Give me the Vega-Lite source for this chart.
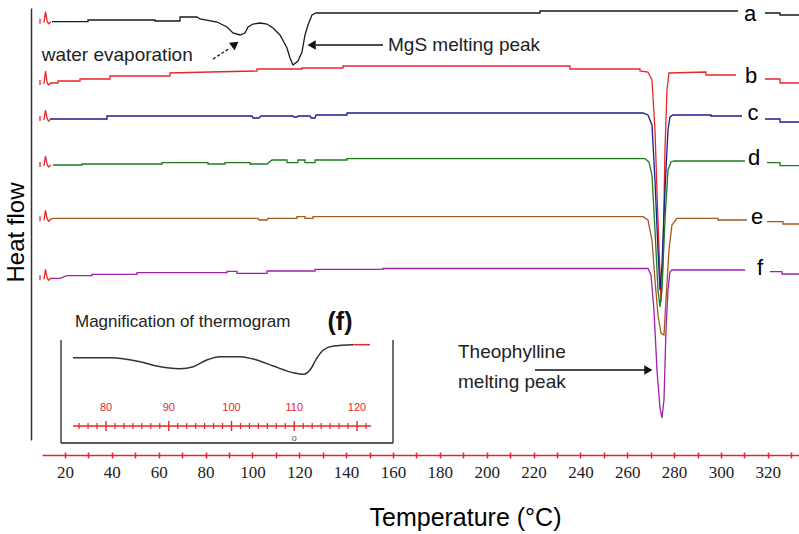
{
  "$schema": "https://vega.github.io/schema/vega-lite/v6.json",
  "width": 757,
  "height": 432,
  "autosize": {"type": "none"},
  "padding": {"left": 42, "top": 8, "right": 0, "bottom": 94},
  "background": "white",
  "config": {"view": {"stroke": null}, "axis": {"grid": false}},
  "datasets": {
    "curves": [
      {"trace":"a","part":"a1","temp":14.47,"hf":418.3},{"trace":"a","part":"a1","temp":29.83,"hf":418.3},{"trace":"a","part":"a1","temp":29.83,"hf":420},{"trace":"a","part":"a1","temp":58.43,"hf":420},{"trace":"a","part":"a1","temp":58.43,"hf":419},{"trace":"a","part":"a1","temp":69.10,"hf":419},{"trace":"a","part":"a1","temp":69.10,"hf":423},{"trace":"a","part":"a1","temp":76.36,"hf":423},{"trace":"a","part":"a1","temp":77.64,"hf":421},{"trace":"a","part":"a1","temp":84.89,"hf":418},{"trace":"a","part":"a1","temp":89.16,"hf":413},{"trace":"a","part":"a1","temp":91.72,"hf":407},{"trace":"a","part":"a1","temp":94.71,"hf":405},{"trace":"a","part":"a1","temp":96.85,"hf":407},{"trace":"a","part":"a1","temp":98.12,"hf":413},{"trace":"a","part":"a1","temp":100.25,"hf":416},{"trace":"a","part":"a1","temp":103.24,"hf":417},{"trace":"a","part":"a1","temp":106.23,"hf":416},{"trace":"a","part":"a1","temp":108.79,"hf":412},{"trace":"a","part":"a1","temp":111.78,"hf":405},{"trace":"a","part":"a1","temp":114.77,"hf":392},{"trace":"a","part":"a1","temp":116.05,"hf":382},{"trace":"a","part":"a1","temp":117.33,"hf":375},{"trace":"a","part":"a1","temp":119.46,"hf":379},{"trace":"a","part":"a1","temp":121.17,"hf":388},{"trace":"a","part":"a1","temp":122.45,"hf":405},{"trace":"a","part":"a1","temp":123.73,"hf":415},{"trace":"a","part":"a1","temp":125.44,"hf":425},{"trace":"a","part":"a1","temp":127.15,"hf":427},{"trace":"a","part":"a1","temp":222.75,"hf":427},{"trace":"a","part":"a1","temp":222.75,"hf":429},{"trace":"a","part":"a1","temp":307.26,"hf":429},
      {"trace":"a","part":"a2","temp":318.78,"hf":427},{"trace":"a","part":"a2","temp":325.19,"hf":427},{"trace":"a","part":"a2","temp":325.19,"hf":425},{"trace":"a","part":"a2","temp":333.3,"hf":425},
      {"trace":"b","part":"b1","temp":13.62,"hf":357},{"trace":"b","part":"b1","temp":17.03,"hf":357},{"trace":"b","part":"b1","temp":17.03,"hf":359},{"trace":"b","part":"b1","temp":26.42,"hf":359},{"trace":"b","part":"b1","temp":26.42,"hf":361},{"trace":"b","part":"b1","temp":39.22,"hf":361},{"trace":"b","part":"b1","temp":39.22,"hf":364},{"trace":"b","part":"b1","temp":64.83,"hf":364},{"trace":"b","part":"b1","temp":64.83,"hf":367},{"trace":"b","part":"b1","temp":81.90,"hf":368},{"trace":"b","part":"b1","temp":101.96,"hf":369},{"trace":"b","part":"b1","temp":101.96,"hf":371},{"trace":"b","part":"b1","temp":121.17,"hf":371},{"trace":"b","part":"b1","temp":121.17,"hf":372},{"trace":"b","part":"b1","temp":138.67,"hf":372},{"trace":"b","part":"b1","temp":138.67,"hf":374},{"trace":"b","part":"b1","temp":235.55,"hf":374},{"trace":"b","part":"b1","temp":235.55,"hf":371},{"trace":"b","part":"b1","temp":265.43,"hf":371},{"trace":"b","part":"b1","temp":265.43,"hf":369},{"trace":"b","part":"b1","temp":268.84,"hf":368},{"trace":"b","part":"b1","temp":270.55,"hf":360},{"trace":"b","part":"b1","temp":271.83,"hf":310},{"trace":"b","part":"b1","temp":273.11,"hf":220},{"trace":"b","part":"b1","temp":274.39,"hf":138},{"trace":"b","part":"b1","temp":275.24,"hf":180},{"trace":"b","part":"b1","temp":276.10,"hf":290},{"trace":"b","part":"b1","temp":276.95,"hf":350},{"trace":"b","part":"b1","temp":277.80,"hf":367},{"trace":"b","part":"b1","temp":293.60,"hf":368},{"trace":"b","part":"b1","temp":293.60,"hf":365},{"trace":"b","part":"b1","temp":306.40,"hf":365},
      {"trace":"b","part":"b2","temp":318.78,"hf":361},{"trace":"b","part":"b2","temp":325.19,"hf":361},{"trace":"b","part":"b2","temp":325.19,"hf":357},{"trace":"b","part":"b2","temp":333.3,"hf":357},
      {"trace":"c","part":"c1","temp":13.62,"hf":321},{"trace":"c","part":"c1","temp":37.94,"hf":321},{"trace":"c","part":"c1","temp":37.94,"hf":324},{"trace":"c","part":"c1","temp":99.82,"hf":324},{"trace":"c","part":"c1","temp":100.25,"hf":322},{"trace":"c","part":"c1","temp":102.81,"hf":322},{"trace":"c","part":"c1","temp":103.66,"hf":324},{"trace":"c","part":"c1","temp":117.33,"hf":324},{"trace":"c","part":"c1","temp":117.75,"hf":323},{"trace":"c","part":"c1","temp":119.03,"hf":323},{"trace":"c","part":"c1","temp":119.46,"hf":324},{"trace":"c","part":"c1","temp":124.58,"hf":324},{"trace":"c","part":"c1","temp":125.01,"hf":322},{"trace":"c","part":"c1","temp":126.72,"hf":322},{"trace":"c","part":"c1","temp":127.15,"hf":325},{"trace":"c","part":"c1","temp":140.38,"hf":325},{"trace":"c","part":"c1","temp":140.38,"hf":327},{"trace":"c","part":"c1","temp":266.72,"hf":327},{"trace":"c","part":"c1","temp":268.84,"hf":325},{"trace":"c","part":"c1","temp":270.55,"hf":315},{"trace":"c","part":"c1","temp":271.83,"hf":260},{"trace":"c","part":"c1","temp":273.11,"hf":190},{"trace":"c","part":"c1","temp":273.97,"hf":150},{"trace":"c","part":"c1","temp":274.82,"hf":175},{"trace":"c","part":"c1","temp":276.10,"hf":250},{"trace":"c","part":"c1","temp":277.38,"hf":310},{"trace":"c","part":"c1","temp":278.23,"hf":323},{"trace":"c","part":"c1","temp":279.51,"hf":325},{"trace":"c","part":"c1","temp":295.73,"hf":325},{"trace":"c","part":"c1","temp":295.73,"hf":324},{"trace":"c","part":"c1","temp":308.96,"hf":324},
      {"trace":"c","part":"c2","temp":318.78,"hf":321},{"trace":"c","part":"c2","temp":325.19,"hf":321},{"trace":"c","part":"c2","temp":325.19,"hf":318},{"trace":"c","part":"c2","temp":333.3,"hf":318},
      {"trace":"d","part":"d1","temp":14.90,"hf":275},{"trace":"d","part":"d1","temp":27.27,"hf":275},{"trace":"d","part":"d1","temp":27.27,"hf":276},{"trace":"d","part":"d1","temp":61.42,"hf":276},{"trace":"d","part":"d1","temp":61.42,"hf":277.3},{"trace":"d","part":"d1","temp":81.05,"hf":277.3},{"trace":"d","part":"d1","temp":81.05,"hf":276},{"trace":"d","part":"d1","temp":88.30,"hf":276},{"trace":"d","part":"d1","temp":88.30,"hf":277.3},{"trace":"d","part":"d1","temp":98.97,"hf":277.3},{"trace":"d","part":"d1","temp":98.97,"hf":276},{"trace":"d","part":"d1","temp":106.23,"hf":276},{"trace":"d","part":"d1","temp":108.36,"hf":280},{"trace":"d","part":"d1","temp":114.77,"hf":280},{"trace":"d","part":"d1","temp":114.77,"hf":277.3},{"trace":"d","part":"d1","temp":119.46,"hf":277.3},{"trace":"d","part":"d1","temp":119.46,"hf":280},{"trace":"d","part":"d1","temp":122.45,"hf":280},{"trace":"d","part":"d1","temp":122.45,"hf":277.3},{"trace":"d","part":"d1","temp":126.72,"hf":277.3},{"trace":"d","part":"d1","temp":126.72,"hf":280},{"trace":"d","part":"d1","temp":140.38,"hf":280},{"trace":"d","part":"d1","temp":140.38,"hf":281.3},{"trace":"d","part":"d1","temp":267.57,"hf":281.3},{"trace":"d","part":"d1","temp":269.27,"hf":278},{"trace":"d","part":"d1","temp":270.55,"hf":265},{"trace":"d","part":"d1","temp":271.83,"hf":210},{"trace":"d","part":"d1","temp":273.11,"hf":150},{"trace":"d","part":"d1","temp":273.97,"hf":133},{"trace":"d","part":"d1","temp":274.82,"hf":150},{"trace":"d","part":"d1","temp":276.10,"hf":220},{"trace":"d","part":"d1","temp":277.38,"hf":270},{"trace":"d","part":"d1","temp":278.66,"hf":278},{"trace":"d","part":"d1","temp":279.94,"hf":279},{"trace":"d","part":"d1","temp":310.24,"hf":279},
      {"trace":"d","part":"d2","temp":319.63,"hf":277.3},{"trace":"d","part":"d2","temp":325.19,"hf":277.3},{"trace":"d","part":"d2","temp":325.19,"hf":274.3},{"trace":"d","part":"d2","temp":333.3,"hf":274.3},
      {"trace":"e","part":"e1","temp":13.62,"hf":220.7},{"trace":"e","part":"e1","temp":14.90,"hf":221.7},{"trace":"e","part":"e1","temp":102.39,"hf":221.7},{"trace":"e","part":"e1","temp":102.81,"hf":220},{"trace":"e","part":"e1","temp":106.23,"hf":220},{"trace":"e","part":"e1","temp":106.65,"hf":221.7},{"trace":"e","part":"e1","temp":119.03,"hf":221.7},{"trace":"e","part":"e1","temp":119.03,"hf":223.3},{"trace":"e","part":"e1","temp":122.45,"hf":223.3},{"trace":"e","part":"e1","temp":122.45,"hf":221.7},{"trace":"e","part":"e1","temp":125.87,"hf":221.7},{"trace":"e","part":"e1","temp":125.87,"hf":223.3},{"trace":"e","part":"e1","temp":266.72,"hf":223.3},{"trace":"e","part":"e1","temp":268.84,"hf":220},{"trace":"e","part":"e1","temp":270.55,"hf":200},{"trace":"e","part":"e1","temp":271.83,"hf":160},{"trace":"e","part":"e1","temp":273.11,"hf":125},{"trace":"e","part":"e1","temp":274.39,"hf":107},{"trace":"e","part":"e1","temp":275.67,"hf":105},{"trace":"e","part":"e1","temp":276.53,"hf":140},{"trace":"e","part":"e1","temp":277.80,"hf":190},{"trace":"e","part":"e1","temp":279.08,"hf":215},{"trace":"e","part":"e1","temp":281.22,"hf":221.7},{"trace":"e","part":"e1","temp":298.72,"hf":221.7},{"trace":"e","part":"e1","temp":298.72,"hf":220},{"trace":"e","part":"e1","temp":311.09,"hf":220},
      {"trace":"e","part":"e2","temp":319.63,"hf":218.3},{"trace":"e","part":"e2","temp":326.47,"hf":218.3},{"trace":"e","part":"e2","temp":326.47,"hf":216},{"trace":"e","part":"e2","temp":333.3,"hf":216},
      {"trace":"f","part":"f1","temp":13.62,"hf":161.7},{"trace":"f","part":"f1","temp":17.88,"hf":161.7},{"trace":"f","part":"f1","temp":20.87,"hf":164.3},{"trace":"f","part":"f1","temp":31.54,"hf":164.3},{"trace":"f","part":"f1","temp":31.54,"hf":165.7},{"trace":"f","part":"f1","temp":50.75,"hf":165.7},{"trace":"f","part":"f1","temp":50.75,"hf":167.3},{"trace":"f","part":"f1","temp":89.16,"hf":167.3},{"trace":"f","part":"f1","temp":89.16,"hf":168.7},{"trace":"f","part":"f1","temp":93.43,"hf":168.7},{"trace":"f","part":"f1","temp":93.43,"hf":166.7},{"trace":"f","part":"f1","temp":106.23,"hf":166.7},{"trace":"f","part":"f1","temp":106.23,"hf":169},{"trace":"f","part":"f1","temp":126.72,"hf":169},{"trace":"f","part":"f1","temp":126.72,"hf":170.7},{"trace":"f","part":"f1","temp":155.74,"hf":170.7},{"trace":"f","part":"f1","temp":155.74,"hf":171.5},{"trace":"f","part":"f1","temp":268.84,"hf":171.5},{"trace":"f","part":"f1","temp":270.12,"hf":165},{"trace":"f","part":"f1","temp":271.40,"hf":130},{"trace":"f","part":"f1","temp":272.68,"hf":70},{"trace":"f","part":"f1","temp":273.97,"hf":32},{"trace":"f","part":"f1","temp":274.82,"hf":22},{"trace":"f","part":"f1","temp":275.67,"hf":40},{"trace":"f","part":"f1","temp":276.53,"hf":110},{"trace":"f","part":"f1","temp":277.38,"hf":150},{"trace":"f","part":"f1","temp":278.23,"hf":168},{"trace":"f","part":"f1","temp":279.08,"hf":170},{"trace":"f","part":"f1","temp":310.24,"hf":170},
      {"trace":"f","part":"f2","temp":320.91,"hf":168.3},{"trace":"f","part":"f2","temp":326.04,"hf":168.3},{"trace":"f","part":"f2","temp":326.04,"hf":166},{"trace":"f","part":"f2","temp":333.3,"hf":166},
      {"trace":"x","part":"ah","temp":11.05,"hf":417.3},{"trace":"x","part":"ah","temp":11.69,"hf":428.3},{"trace":"x","part":"ah","temp":12.33,"hf":419.3},{"trace":"x","part":"ah","temp":12.97,"hf":416.3},{"trace":"x","part":"ah","temp":14.04,"hf":418.3},
      {"trace":"x","part":"ai","temp":9.35,"hf":421.3},{"trace":"x","part":"ai","temp":9.35,"hf":416.3},
      {"trace":"x","part":"bh","temp":11.05,"hf":356},{"trace":"x","part":"bh","temp":11.69,"hf":369},{"trace":"x","part":"bh","temp":12.33,"hf":358},{"trace":"x","part":"bh","temp":12.97,"hf":355},{"trace":"x","part":"bh","temp":14.04,"hf":357},
      {"trace":"x","part":"bi","temp":9.35,"hf":360},{"trace":"x","part":"bi","temp":9.35,"hf":355},
      {"trace":"x","part":"ch","temp":11.05,"hf":320},{"trace":"x","part":"ch","temp":11.69,"hf":330},{"trace":"x","part":"ch","temp":12.33,"hf":322},{"trace":"x","part":"ch","temp":12.97,"hf":319},{"trace":"x","part":"ch","temp":14.04,"hf":321},
      {"trace":"x","part":"ci","temp":9.35,"hf":324},{"trace":"x","part":"ci","temp":9.35,"hf":319},
      {"trace":"x","part":"dh","temp":11.05,"hf":274},{"trace":"x","part":"dh","temp":11.69,"hf":284},{"trace":"x","part":"dh","temp":12.33,"hf":276},{"trace":"x","part":"dh","temp":12.97,"hf":273},{"trace":"x","part":"dh","temp":14.04,"hf":275},
      {"trace":"x","part":"di","temp":9.35,"hf":278},{"trace":"x","part":"di","temp":9.35,"hf":273},
      {"trace":"x","part":"eh","temp":11.05,"hf":219.7},{"trace":"x","part":"eh","temp":11.69,"hf":229.7},{"trace":"x","part":"eh","temp":12.33,"hf":221.7},{"trace":"x","part":"eh","temp":12.97,"hf":218.7},{"trace":"x","part":"eh","temp":14.04,"hf":220.7},
      {"trace":"x","part":"ei","temp":9.35,"hf":223.7},{"trace":"x","part":"ei","temp":9.35,"hf":218.7},
      {"trace":"x","part":"fh","temp":11.05,"hf":160.7},{"trace":"x","part":"fh","temp":11.69,"hf":170.7},{"trace":"x","part":"fh","temp":12.33,"hf":162.7},{"trace":"x","part":"fh","temp":12.97,"hf":159.7},{"trace":"x","part":"fh","temp":14.04,"hf":161.7},
      {"trace":"x","part":"fi","temp":9.35,"hf":164.7},{"trace":"x","part":"fi","temp":9.35,"hf":159.7}
    ],
    "curve_labels": [
      {"temp":312.39,"hf":419,"label":"a"},
      {"temp":312.82,"hf":357,"label":"b"},
      {"temp":313.67,"hf":320,"label":"c"},
      {"temp":314.10,"hf":275,"label":"d"},
      {"temp":315.38,"hf":216,"label":"e"},
      {"temp":316.66,"hf":165,"label":"f"}
    ],
    "notes": [
      {"temp":10.07,"hf":385,"text":"water evaporation"},
      {"temp":157.88,"hf":395,"text":"MgS melting peak"},
      {"temp":187.75,"hf":88,"text":"Theophylline"},
      {"temp":187.75,"hf":58,"text":"melting peak"}
    ],
    "arrows": [
      {"kind":"dashed","temp":83.18,"temp2":90.44,"hf":381,"hf2":392},
      {"kind":"solid","temp":155.74,"temp2":127.15,"hf":395,"hf2":395},
      {"kind":"solid","temp":220.61,"temp2":267.57,"hf":70,"hf2":70}
    ],
    "heads": [
      {"temp":92.15,"hf":395,"angle":54},
      {"temp":125.87,"hf":395,"angle":270},
      {"temp":268.41,"hf":70,"angle":90}
    ],
    "inset_box": [
      {"t":72.83,"t2":72.83,"hf":100,"hf2":-3},
      {"t":125.74,"t2":125.74,"hf":100,"hf2":-3},
      {"t":72.83,"t2":125.74,"hf":-3,"hf2":-3}
    ],
    "inset_axis": [{"t":74.74,"t2":122.23,"hf":14,"hf2":14}],
    "inset_curve": [
      {"seg":"trace","t":74.74,"hf":82.3},{"seg":"trace","t":80.64,"hf":82.3},{"seg":"trace","t":85.42,"hf":78.3},{"seg":"trace","t":88.08,"hf":74},{"seg":"trace","t":91.79,"hf":71.3},{"seg":"trace","t":93.91,"hf":73.3},{"seg":"trace","t":96.05,"hf":80},{"seg":"trace","t":98.17,"hf":83.3},{"seg":"trace","t":101.35,"hf":83.3},{"seg":"trace","t":104.02,"hf":80},{"seg":"trace","t":106.66,"hf":74},{"seg":"trace","t":109.85,"hf":67.3},{"seg":"trace","t":111.44,"hf":65.7},{"seg":"trace","t":112.51,"hf":70},{"seg":"trace","t":113.58,"hf":81.7},{"seg":"trace","t":114.63,"hf":90},{"seg":"trace","t":116.23,"hf":94},{"seg":"trace","t":119.41,"hf":95.3},
      {"seg":"end","t":119.41,"hf":95.3},{"seg":"end","t":122.07,"hf":95.3}
    ],
    "inset_ticks": [
      {"t":80,"hf":14,"kind":"major"},{"t":90,"hf":14,"kind":"major"},{"t":100,"hf":14,"kind":"major"},{"t":110,"hf":14,"kind":"major"},{"t":120,"hf":14,"kind":"major"},
      {"t":75.71,"hf":14,"kind":"minor"},{"t":77.14,"hf":14,"kind":"minor"},{"t":78.57,"hf":14,"kind":"minor"},{"t":81.43,"hf":14,"kind":"minor"},{"t":82.86,"hf":14,"kind":"minor"},{"t":84.29,"hf":14,"kind":"minor"},{"t":85.71,"hf":14,"kind":"minor"},{"t":87.14,"hf":14,"kind":"minor"},{"t":88.57,"hf":14,"kind":"minor"},{"t":91.43,"hf":14,"kind":"minor"},{"t":92.86,"hf":14,"kind":"minor"},{"t":94.29,"hf":14,"kind":"minor"},{"t":95.71,"hf":14,"kind":"minor"},{"t":97.14,"hf":14,"kind":"minor"},{"t":98.57,"hf":14,"kind":"minor"},{"t":101.43,"hf":14,"kind":"minor"},{"t":102.86,"hf":14,"kind":"minor"},{"t":104.29,"hf":14,"kind":"minor"},{"t":105.71,"hf":14,"kind":"minor"},{"t":107.14,"hf":14,"kind":"minor"},{"t":108.57,"hf":14,"kind":"minor"},{"t":111.43,"hf":14,"kind":"minor"},{"t":112.86,"hf":14,"kind":"minor"},{"t":114.29,"hf":14,"kind":"minor"},{"t":115.71,"hf":14,"kind":"minor"},{"t":117.14,"hf":14,"kind":"minor"},{"t":118.57,"hf":14,"kind":"minor"},{"t":121.43,"hf":14,"kind":"minor"}
    ],
    "inset_labels": [
      {"t":80,"hf":32,"label":"80"},{"t":90,"hf":32,"label":"90"},{"t":100,"hf":32,"label":"100"},{"t":110,"hf":32,"label":"110"},{"t":120,"hf":32,"label":"120"}
    ],
    "inset_title": [
      {"t":75.06,"hf":118,"text":"Magnification of thermogram"}
    ],
    "inset_tag": [
      {"t":117.29,"hf":118,"text":"(f)"}
    ],
    "inset_mark": [
      {"t":110,"hf":2,"text":"o"}
    ]
  },
  "resolve": {"scale": {"x": "independent"}, "axis": {"x": "independent"}},
  "layer": [
    {
      "resolve": {"axis": {"x": "independent"}},
      "layer": [
        {
          "data": {"name": "curves"},
          "mark": {"type": "line", "strokeWidth": 1.3, "clip": false},
          "encoding": {
            "x": {
              "field": "temp", "type": "quantitative",
              "scale": {"domain": [10.2, 333.3], "nice": false, "zero": false},
              "axis": {
                "orient": "bottom", "offset": 15,
                "values": [10,20,30,40,50,60,70,80,90,100,110,120,130,140,150,160,170,180,190,200,210,220,230,240,250,260,270,280,290,300,310,320,330],
                "labelExpr": "datum.value % 20 === 0 ? datum.label : ''",
                "domainColor": "#e8262a", "domainWidth": 1.5,
                "tickColor": "#e8262a", "tickWidth": 1.5, "tickSize": 3,
                "labelFont": "Liberation Sans Narrow", "labelFontSize": 17, "labelColor": "#222",
                "labelPadding": 6, "labelFlush": false, "labelOverlap": false,
                "title": "Temperature (°C)", "titleFont": "Liberation Sans", "titleFontSize": 25,
                "titleFontWeight": "normal", "titleColor": "#000",
                "titleX": 423, "titleY": 70, "titleBaseline": "alphabetic", "titleAlign": "center"
              }
            },
            "y": {
              "field": "hf", "type": "quantitative",
              "scale": {"domain": [0, 432], "nice": false, "zero": false},
              "axis": {
                "orient": "left", "offset": 11, "ticks": false, "labels": false,
                "domainColor": "#333", "domainWidth": 1.5,
                "title": "Heat flow", "titleFont": "Liberation Sans", "titleFontSize": 24,
                "titleFontWeight": "normal", "titleColor": "#000",
                "titleX": -8, "titleY": 224, "titleAngle": -90,
                "titleBaseline": "alphabetic", "titleAlign": "center"
              }
            },
            "color": {
              "field": "trace", "type": "nominal",
              "scale": {"domain": ["a","b","c","d","e","f","x"], "range": ["#1a1a1a","#e8262a","#1c1c8c","#1e7b1e","#a35a1e","#a020a8","#e8262a"]},
              "legend": null
            },
            "detail": {"field": "part"},
            "order": {"value": null}
          }
        },
        {
          "data": {"name": "curve_labels"},
          "mark": {"type": "text", "font": "Liberation Sans", "fontSize": 22, "color": "#000", "align": "center", "baseline": "alphabetic"},
          "encoding": {
            "x": {
              "field": "temp", "type": "quantitative",
              "scale": {"domain": [10.2, 333.3], "nice": false, "zero": false},
              "axis": {
                "orient": "bottom", "offset": 12,
                "values": [10,20,30,40,50,60,70,80,90,100,110,120,130,140,150,160,170,180,190,200,210,220,230,240,250,260,270,280,290,300,310,320,330],
                "domain": false, "labels": false, "title": null,
                "tickColor": "#e8262a", "tickWidth": 1.5, "tickSize": 3
              }
            },
            "y": {"field": "hf", "type": "quantitative", "scale": {"domain": [0, 432], "nice": false, "zero": false}},
            "text": {"field": "label"}
          }
        },
        {
          "data": {"name": "notes"},
          "mark": {"type": "text", "font": "Liberation Sans", "fontSize": 19, "color": "#222", "align": "left", "baseline": "middle"},
          "encoding": {
            "x": {"field": "temp", "type": "quantitative", "scale": {"domain": [10.2, 333.3], "nice": false, "zero": false}, "axis": null},
            "y": {"field": "hf", "type": "quantitative", "scale": {"domain": [0, 432], "nice": false, "zero": false}},
            "text": {"field": "text"}
          }
        },
        {
          "data": {"name": "arrows"},
          "transform": [{"filter": "datum.kind === 'solid'"}],
          "mark": {"type": "rule", "color": "#111", "strokeWidth": 1.3},
          "encoding": {
            "x": {"field": "temp", "type": "quantitative", "scale": {"domain": [10.2, 333.3], "nice": false, "zero": false}, "axis": null},
            "x2": {"field": "temp2"},
            "y": {"field": "hf", "type": "quantitative", "scale": {"domain": [0, 432], "nice": false, "zero": false}},
            "y2": {"field": "hf2"}
          }
        },
        {
          "data": {"name": "arrows"},
          "transform": [{"filter": "datum.kind === 'dashed'"}],
          "mark": {"type": "rule", "color": "#111", "strokeWidth": 1.3, "strokeDash": [3, 2]},
          "encoding": {
            "x": {"field": "temp", "type": "quantitative", "scale": {"domain": [10.2, 333.3], "nice": false, "zero": false}, "axis": null},
            "x2": {"field": "temp2"},
            "y": {"field": "hf", "type": "quantitative", "scale": {"domain": [0, 432], "nice": false, "zero": false}},
            "y2": {"field": "hf2"}
          }
        },
        {
          "data": {"name": "heads"},
          "mark": {"type": "point", "shape": "triangle", "filled": true, "color": "#111", "size": 90, "opacity": 1},
          "encoding": {
            "x": {"field": "temp", "type": "quantitative", "scale": {"domain": [10.2, 333.3], "nice": false, "zero": false}, "axis": null},
            "y": {"field": "hf", "type": "quantitative", "scale": {"domain": [0, 432], "nice": false, "zero": false}},
            "angle": {"field": "angle", "type": "quantitative", "scale": null}
          }
        }
      ]
    },
    {
      "layer": [
        {
          "data": {"name": "inset_box"},
          "mark": {"type": "rule", "color": "#222", "strokeWidth": 1.3},
          "encoding": {
            "x": {"field": "t", "type": "quantitative", "scale": {"domain": [69.8, 190.44], "nice": false, "zero": false}, "axis": null},
            "x2": {"field": "t2"},
            "y": {"field": "hf", "type": "quantitative", "scale": {"domain": [0, 432], "nice": false, "zero": false}},
            "y2": {"field": "hf2"}
          }
        },
        {
          "data": {"name": "inset_axis"},
          "mark": {"type": "rule", "color": "#e8262a", "strokeWidth": 1.5},
          "encoding": {
            "x": {"field": "t", "type": "quantitative", "scale": {"domain": [69.8, 190.44], "nice": false, "zero": false}, "axis": null},
            "x2": {"field": "t2"},
            "y": {"field": "hf", "type": "quantitative", "scale": {"domain": [0, 432], "nice": false, "zero": false}},
            "y2": {"field": "hf2"}
          }
        },
        {
          "data": {"name": "inset_ticks"},
          "transform": [{"filter": "datum.kind === 'minor'"}],
          "mark": {"type": "tick", "orient": "vertical", "color": "#e8262a", "size": 6, "thickness": 1.2, "opacity": 1},
          "encoding": {
            "x": {"field": "t", "type": "quantitative", "scale": {"domain": [69.8, 190.44], "nice": false, "zero": false}, "axis": null},
            "y": {"field": "hf", "type": "quantitative", "scale": {"domain": [0, 432], "nice": false, "zero": false}}
          }
        },
        {
          "data": {"name": "inset_ticks"},
          "transform": [{"filter": "datum.kind === 'major'"}],
          "mark": {"type": "tick", "orient": "vertical", "color": "#e8262a", "size": 10, "thickness": 1.4, "opacity": 1},
          "encoding": {
            "x": {"field": "t", "type": "quantitative", "scale": {"domain": [69.8, 190.44], "nice": false, "zero": false}, "axis": null},
            "y": {"field": "hf", "type": "quantitative", "scale": {"domain": [0, 432], "nice": false, "zero": false}}
          }
        },
        {
          "data": {"name": "inset_labels"},
          "mark": {"type": "text", "font": "Liberation Sans", "fontSize": 11, "color": "#e8262a", "align": "center", "baseline": "middle"},
          "encoding": {
            "x": {"field": "t", "type": "quantitative", "scale": {"domain": [69.8, 190.44], "nice": false, "zero": false}, "axis": null},
            "y": {"field": "hf", "type": "quantitative", "scale": {"domain": [0, 432], "nice": false, "zero": false}},
            "text": {"field": "label"}
          }
        },
        {
          "data": {"name": "inset_curve"},
          "transform": [{"filter": "datum.seg === 'trace'"}],
          "mark": {"type": "line", "interpolate": "monotone", "color": "#333", "strokeWidth": 1.5},
          "encoding": {
            "x": {"field": "t", "type": "quantitative", "scale": {"domain": [69.8, 190.44], "nice": false, "zero": false}, "axis": null},
            "y": {"field": "hf", "type": "quantitative", "scale": {"domain": [0, 432], "nice": false, "zero": false}}
          }
        },
        {
          "data": {"name": "inset_curve"},
          "transform": [{"filter": "datum.seg === 'end'"}],
          "mark": {"type": "line", "color": "#e8262a", "strokeWidth": 1.5},
          "encoding": {
            "x": {"field": "t", "type": "quantitative", "scale": {"domain": [69.8, 190.44], "nice": false, "zero": false}, "axis": null},
            "y": {"field": "hf", "type": "quantitative", "scale": {"domain": [0, 432], "nice": false, "zero": false}}
          }
        },
        {
          "data": {"name": "inset_title"},
          "mark": {"type": "text", "font": "Liberation Sans", "fontSize": 17, "color": "#222", "align": "left", "baseline": "middle"},
          "encoding": {
            "x": {"field": "t", "type": "quantitative", "scale": {"domain": [69.8, 190.44], "nice": false, "zero": false}, "axis": null},
            "y": {"field": "hf", "type": "quantitative", "scale": {"domain": [0, 432], "nice": false, "zero": false}},
            "text": {"field": "text"}
          }
        },
        {
          "data": {"name": "inset_tag"},
          "mark": {"type": "text", "font": "Liberation Sans", "fontSize": 25, "fontWeight": "bold", "color": "#111", "align": "center", "baseline": "middle"},
          "encoding": {
            "x": {"field": "t", "type": "quantitative", "scale": {"domain": [69.8, 190.44], "nice": false, "zero": false}, "axis": null},
            "y": {"field": "hf", "type": "quantitative", "scale": {"domain": [0, 432], "nice": false, "zero": false}},
            "text": {"field": "text"}
          }
        },
        {
          "data": {"name": "inset_mark"},
          "mark": {"type": "text", "font": "Liberation Sans", "fontSize": 9, "color": "#555", "align": "center", "baseline": "middle"},
          "encoding": {
            "x": {"field": "t", "type": "quantitative", "scale": {"domain": [69.8, 190.44], "nice": false, "zero": false}, "axis": null},
            "y": {"field": "hf", "type": "quantitative", "scale": {"domain": [0, 432], "nice": false, "zero": false}},
            "text": {"field": "text"}
          }
        }
      ]
    }
  ]
}
